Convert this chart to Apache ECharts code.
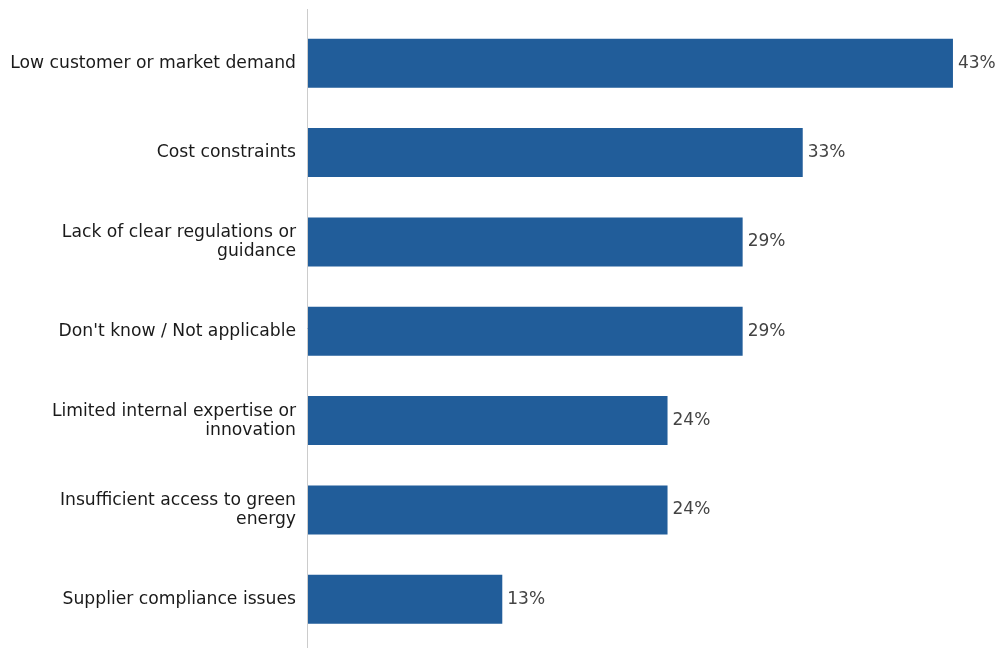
<!DOCTYPE html>
<html>
<head>
<meta charset="utf-8">
<script src="https://cdn.jsdelivr.net/npm/echarts@6/dist/echarts.min.js"></script>
<style>
  html, body { margin: 0; padding: 0; background: #fff; }
  #chart { width: 996px; height: 648px; }
</style>
</head>
<body>
<div id="chart"></div>
<script>
// Reasons cited, top to bottom
const categories = [
  'Low customer or market demand',
  'Cost constraints',
  'Lack of clear regulations or\nguidance',
  "Don't know / Not applicable",
  'Limited internal expertise or\ninnovation',
  'Insufficient access to green\nenergy',
  'Supplier compliance issues'
];
// Share of respondents (%)
const shares = [43, 33, 29, 29, 24, 24, 13];

const chart = echarts.init(document.getElementById('chart'), null, { renderer: 'canvas' });

const font = "'DejaVu Sans', sans-serif";

chart.setOption({
  animation: false,
  backgroundColor: '#ffffff',
  grid: { left: 307, right: 13, top: 18.5, bottom: 4, containLabel: false },
  xAxis: {
    type: 'value',
    min: 0,
    max: 45,
    show: false
  },
  yAxis: {
    type: 'category',
    inverse: true,
    data: categories,
    axisLine: { show: false },
    axisTick: { show: false },
    splitLine: { show: false },
    axisLabel: {
      margin: 11,
      fontFamily: font,
      fontSize: 17.2,
      color: '#1a1a1a',
      lineHeight: 19,
      padding: [4, 0, 0, 0],
      align: 'right'
    }
  },
  series: [{
    type: 'bar',
    data: shares,
    barWidth: 49,
    itemStyle: { color: '#215d9a' },
    label: {
      show: true,
      position: 'right',
      distance: 5,
      formatter: '{c}%',
      fontFamily: font,
      fontSize: 17,
      color: '#444444',
      padding: [2, 0, 0, 0]
    }
  }],
  graphic: [{
    type: 'line',
    shape: { x1: 307.5, y1: 9, x2: 307.5, y2: 648 },
    style: { stroke: '#cccccc', lineWidth: 1 },
    z: 10
  }]
});
</script>
</body>
</html>
